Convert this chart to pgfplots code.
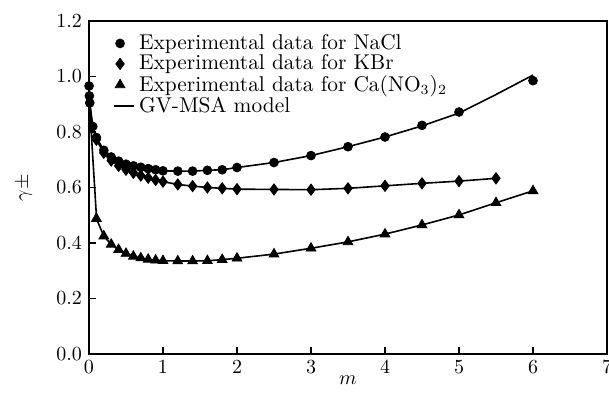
\documentclass[border=0pt]{standalone}
\usepackage{pgfplots}
\pgfplotsset{compat=1.18}
\begin{document}
\begin{tikzpicture}
\begin{axis}[
  name=ax,
  scale only axis,
  width=259pt, height=166.5pt,
  xmin=0, xmax=7, ymin=0, ymax=1.2,
  xtick={0,1,2,3,4,5,6,7},
  ytick={0,0.2,0.4,0.6,0.8,1.0,1.2},
  yticklabel style={/pgf/number format/.cd, fixed, fixed zerofill, precision=1},
  tick align=inside, tick pos=left,
  major tick length=3.5pt,
  axis line style={line width=0.9pt},
  every tick/.style={line width=0.8pt, black},
  xlabel={$m$}, ylabel={$\gamma\pm$},
  xlabel style={at={(axis description cs:0.5,-0.08)}, anchor=center},
  ylabel style={at={(axis description cs:-0.125,0.5)}, anchor=center},
  legend style={draw=none, fill=none, at={(rel axis cs:0.034,0.985)}, anchor=north west,
    font=\fontsize{10.7}{12.5}\selectfont, row sep=-2.8pt},
  legend cell align=left,
]
% experimental data
\addplot[only marks, mark=*, mark size=2.2pt, black] coordinates {
(0.001,0.966)(0.005,0.930)(0.01,0.905)(0.05,0.820)(0.1,0.780)(0.2,0.734)(0.3,0.710)
(0.4,0.695)(0.5,0.684)(0.6,0.678)(0.7,0.673)(0.8,0.668)(0.9,0.664)(1.0,0.660)
(1.2,0.659)(1.4,0.659)(1.6,0.662)(1.8,0.664)(2.0,0.672)(2.5,0.690)(3.0,0.715)
(3.5,0.747)(4.0,0.782)(4.5,0.824)(5.0,0.872)(6.0,0.985)};
\addlegendentry{Experimental data for NaCl}
\addplot[only marks, mark=diamond*, mark size=2.8pt, black] coordinates {
(0.05,0.817)(0.1,0.772)(0.2,0.725)(0.3,0.697)(0.4,0.678)(0.5,0.664)(0.6,0.653)
(0.7,0.643)(0.8,0.635)(0.9,0.627)(1.0,0.621)(1.2,0.611)(1.4,0.605)(1.6,0.600)
(1.8,0.597)(2.0,0.594)(2.5,0.593)(3.0,0.592)(3.5,0.597)(4.0,0.606)(4.5,0.615)
(5.0,0.623)(5.5,0.633)};
\addlegendentry{Experimental data for KBr}
\addplot[only marks, mark=triangle*, mark size=2.8pt, black] coordinates {
(0.1,0.488)(0.2,0.425)(0.3,0.395)(0.4,0.376)(0.5,0.362)(0.6,0.352)(0.7,0.346)
(0.8,0.341)(0.9,0.338)(1.0,0.336)(1.2,0.335)(1.4,0.335)(1.6,0.336)(1.8,0.340)
(2.0,0.345)(2.5,0.360)(3.0,0.381)(3.5,0.404)(4.0,0.432)(4.5,0.465)(5.0,0.501)
(5.5,0.545)(6.0,0.588)};
\addlegendentry{Experimental data for Ca(NO$_3$)$_2$}
% GV-MSA model
\addplot[black, line width=0.8pt, no marks,
  legend image code/.code={\draw[black, line width=0.8pt] (0.19cm,0cm) -- (0.55cm,0cm);}]
  coordinates {
(0.001,0.966)(0.005,0.930)(0.01,0.905)(0.05,0.820)(0.1,0.780)(0.2,0.734)(0.3,0.710)
(0.4,0.695)(0.5,0.684)(0.6,0.678)(0.7,0.673)(0.8,0.668)(0.9,0.664)(1.0,0.660)
(1.2,0.659)(1.4,0.659)(1.6,0.662)(1.8,0.664)(2.0,0.672)(2.5,0.690)(3.0,0.715)
(3.5,0.747)(4.0,0.782)(4.5,0.822)(5.0,0.868)(5.5,0.935)(6.0,1.005)};
\addlegendentry{GV-MSA model}
\addplot[black, line width=0.8pt, no marks, forget plot] coordinates {
(0.001,0.965)(0.005,0.927)(0.01,0.903)(0.05,0.817)(0.1,0.772)(0.2,0.725)(0.3,0.697)
(0.4,0.678)(0.5,0.664)(0.6,0.653)(0.7,0.643)(0.8,0.635)(0.9,0.627)(1.0,0.621)
(1.2,0.611)(1.4,0.605)(1.6,0.600)(1.8,0.597)(2.0,0.594)(2.5,0.593)(3.0,0.592)
(3.5,0.597)(4.0,0.606)(4.5,0.615)(5.0,0.623)(5.5,0.633)};
\addplot[black, line width=0.8pt, no marks, forget plot] coordinates {
(0.002,0.900)(0.03,0.800)(0.095,0.520)(0.1,0.488)(0.2,0.425)(0.3,0.395)(0.4,0.376)
(0.5,0.362)(0.6,0.352)(0.7,0.346)(0.8,0.341)(0.9,0.338)(1.0,0.336)(1.2,0.335)
(1.4,0.335)(1.6,0.336)(1.8,0.340)(2.0,0.345)(2.5,0.360)(3.0,0.381)(3.5,0.404)
(4.0,0.432)(4.5,0.465)(5.0,0.501)(5.5,0.545)(6.0,0.588)};
\end{axis}
\pgfresetboundingbox
\path[use as bounding box] ([shift={(-44.5pt,-23pt)}]ax.south west) rectangle ([shift={(1pt,10.5pt)}]ax.north east);
\end{tikzpicture}
\end{document}
